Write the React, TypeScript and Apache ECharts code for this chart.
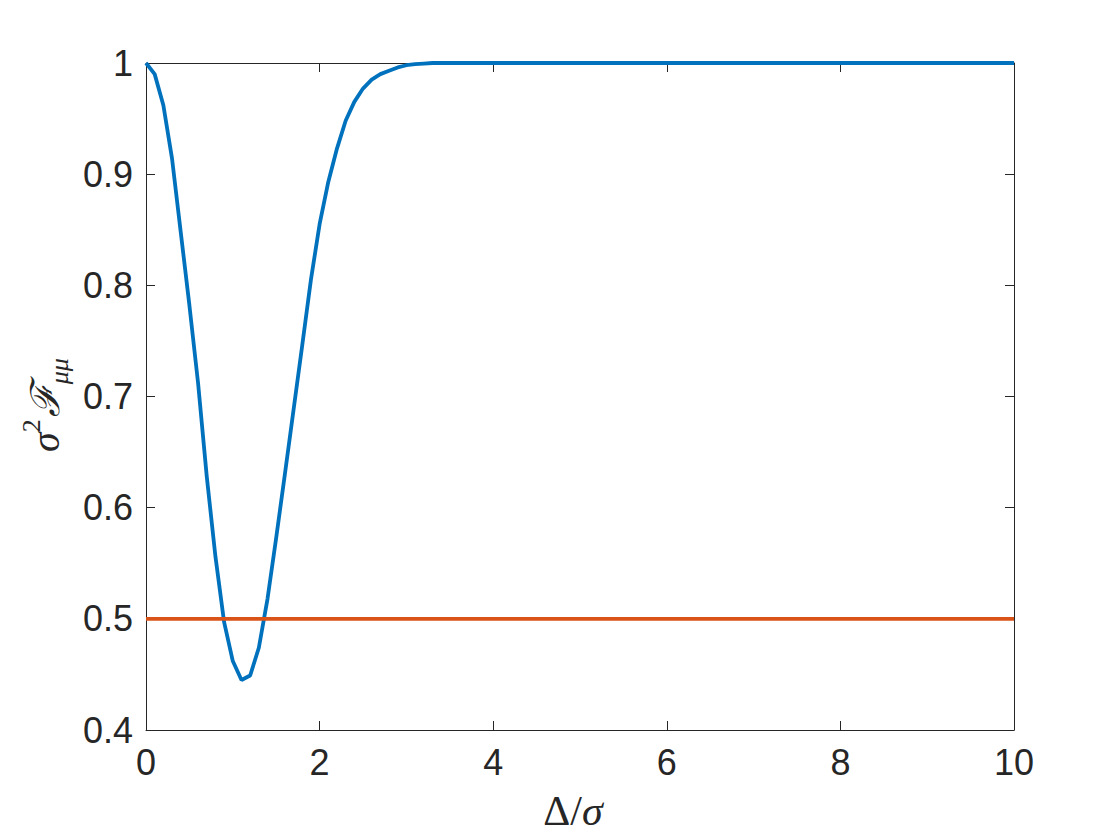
import React, { useEffect, useRef } from "react";
import * as echarts from "echarts";

// Δ/σ sample positions and σ²F_μμ values
const deltaOverSigma = [
  0, 0.1, 0.2, 0.3, 0.4, 0.5, 0.6, 0.7, 0.8, 0.9, 1.0, 1.1, 1.2, 1.3, 1.4, 1.5,
  1.6, 1.7, 1.8, 1.9, 2.0, 2.1, 2.2, 2.3, 2.4, 2.5, 2.6, 2.7, 2.8, 2.9, 3.0,
  3.1, 3.2, 3.3, 10,
];
const fisherValues = [
  1.0, 0.99, 0.962, 0.914, 0.848, 0.782, 0.712, 0.628, 0.556, 0.497, 0.462,
  0.445, 0.449, 0.474, 0.518, 0.573, 0.63, 0.688, 0.746, 0.805, 0.855, 0.893,
  0.923, 0.948, 0.965, 0.977, 0.985, 0.99, 0.993, 0.996, 0.998, 0.999, 0.9995,
  1.0, 1.0,
];
// reference level
const refX = [0, 10];
const refY = [0.5, 0.5];

const xTicks = [0, 2, 4, 6, 8, 10];
const yTicks = [0.4, 0.5, 0.6, 0.7, 0.8, 0.9, 1];

const AXIS_COLOR = "#262626";
const TICK_FONT = "'Liberation Sans', Arial, Helvetica, sans-serif";
const MATH_FONT = "'Liberation Serif', 'DejaVu Serif', serif";

export default function App() {
  const ref = useRef<HTMLDivElement>(null);

  useEffect(() => {
    if (!ref.current) return;
    const chart = echarts.init(ref.current, undefined, { renderer: "svg" });

    const baseAxis = {
      axisLine: { show: true, onZero: false, lineStyle: { color: AXIS_COLOR, width: 1 } },
      axisTick: { show: true, inside: true, length: 9, lineStyle: { color: AXIS_COLOR, width: 1 } },
      splitLine: { show: false },
    };

    chart.setOption({
      animation: false,
      backgroundColor: "#ffffff",
      grid: { left: 146, right: 106, top: 63, bottom: 110, containLabel: false },
      xAxis: [
        {
          ...baseAxis,
          type: "value",
          position: "bottom",
          min: xTicks[0],
          max: xTicks[xTicks.length - 1],
          interval: 2,
          axisLabel: {
            show: true,
            margin: 14,
            color: AXIS_COLOR,
            fontFamily: TICK_FONT,
            fontSize: 36,
          },
          name: "{r|Δ/}{i|σ}",
          nameLocation: "middle",
          nameGap: 60,
          nameTextStyle: {
            padding: [0, 14, 0, 0],
            rich: {
              r: { fontFamily: MATH_FONT, fontSize: 42, color: AXIS_COLOR },
              i: { fontFamily: MATH_FONT, fontSize: 42, fontStyle: "italic", color: AXIS_COLOR },
            },
          },
        },
        {
          ...baseAxis,
          type: "value",
          position: "top",
          min: xTicks[0],
          max: xTicks[xTicks.length - 1],
          interval: 2,
          axisLabel: { show: false },
        },
      ],
      yAxis: [
        {
          ...baseAxis,
          type: "value",
          position: "left",
          min: yTicks[0],
          max: yTicks[yTicks.length - 1],
          interval: 0.1,
          axisLabel: {
            show: true,
            margin: 13,
            color: AXIS_COLOR,
            fontFamily: TICK_FONT,
            fontSize: 36,
            formatter: (v: number) => String(Math.round(v * 10) / 10),
          },
          name: "{i|σ}{sup|2}{f|ℱ}{sub|μμ}",
          nameLocation: "middle",
          nameRotate: 90,
          nameGap: 74,
          nameTextStyle: {
            padding: [0, 17, 0, 0],
            rich: {
              i: { fontFamily: MATH_FONT, fontSize: 40, fontStyle: "italic", color: AXIS_COLOR, lineHeight: 54, verticalAlign: "middle" },
              sup: { fontFamily: MATH_FONT, fontSize: 26, color: AXIS_COLOR, verticalAlign: "top", lineHeight: 54, padding: [0, 2, 0, 0] },
              f: { fontFamily: "'DejaVu Serif', 'Liberation Serif', serif", fontSize: 40, fontStyle: "italic", color: AXIS_COLOR, lineHeight: 54, verticalAlign: "middle" },
              sub: { fontFamily: MATH_FONT, fontSize: 26, fontStyle: "italic", color: AXIS_COLOR, verticalAlign: "bottom", lineHeight: 54 },
            },
          },
        },
        {
          ...baseAxis,
          type: "value",
          position: "right",
          min: yTicks[0],
          max: yTicks[yTicks.length - 1],
          interval: 0.1,
          axisLabel: { show: false },
        },
      ],
      series: [
        {
          type: "line",
          xAxisIndex: 0,
          yAxisIndex: 0,
          data: deltaOverSigma.map((x, i) => [x, fisherValues[i]]),
          showSymbol: false,
          symbol: "none",
          clip: false,
          lineStyle: { color: "#0072BD", width: 3.8 },
          z: 3,
        },
        {
          type: "line",
          xAxisIndex: 0,
          yAxisIndex: 0,
          data: refX.map((x, i) => [x, refY[i]]),
          showSymbol: false,
          symbol: "none",
          lineStyle: { color: "#D95319", width: 3.8 },
          z: 4,
        },
      ],
    });

    return () => chart.dispose();
  }, []);

  return (
    <div
      ref={ref}
      style={{ position: "fixed", left: 0, top: 0, width: 1120, height: 840 }}
    />
  );
}
